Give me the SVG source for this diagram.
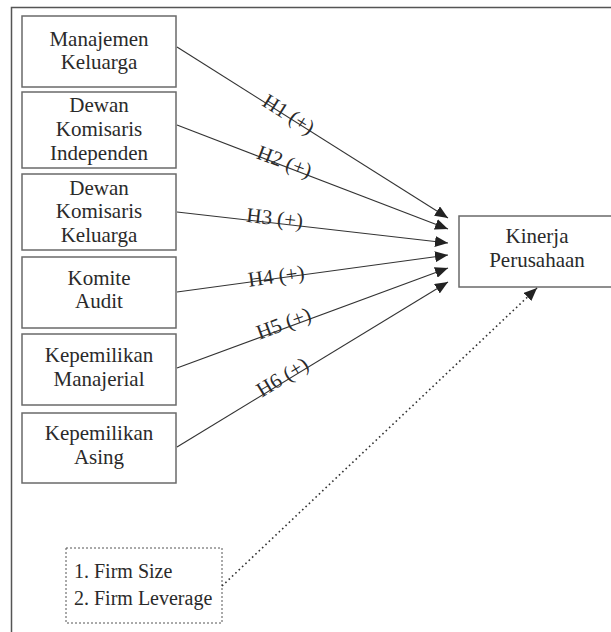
<svg xmlns="http://www.w3.org/2000/svg" width="611" height="632" viewBox="0 0 611 632">
<style>
.box{fill:#fff;stroke:#6a6a6a;stroke-width:1.5}
.t{font-family:"Liberation Serif","Times New Roman",serif;font-size:21px;fill:#2a2a2a;text-anchor:middle}
.tl{font-family:"Liberation Serif","Times New Roman",serif;font-size:20px;fill:#2a2a2a}
.c{stroke:#333;stroke-width:1.1;fill:none}
.d{stroke:#333;stroke-width:1.6;fill:none;stroke-dasharray:1.6 3}
</style>
<defs>
<marker id="ah" viewBox="0 0 13 11" refX="13" refY="5.5" markerWidth="13" markerHeight="11" markerUnits="userSpaceOnUse" orient="auto">
<path d="M0,0 L13,5.5 L0,11 Z" fill="#222"/>
</marker>
</defs>
<rect width="611" height="632" fill="#fff"/>
<path d="M11.5,632 V7.5 H611" fill="none" stroke="#555" stroke-width="1.5"/>

<g id="n1"><rect class="box" x="22" y="16" width="154" height="71"/>
<text class="t" x="99" y="46">Manajemen</text><text class="t" x="99" y="69">Keluarga</text></g>
<g id="n2"><rect class="box" x="22" y="92" width="154" height="76"/>
<text class="t" x="99" y="112">Dewan</text><text class="t" x="99" y="136">Komisaris</text><text class="t" x="99" y="160">Independen</text></g>
<g id="n3"><rect class="box" x="22" y="174" width="154" height="76"/>
<text class="t" x="99" y="195">Dewan</text><text class="t" x="99" y="218">Komisaris</text><text class="t" x="99" y="242">Keluarga</text></g>
<g id="n4"><rect class="box" x="22" y="257" width="154" height="71"/>
<text class="t" x="99" y="285">Komite</text><text class="t" x="99" y="308">Audit</text></g>
<g id="n5"><rect class="box" x="22" y="334" width="154" height="71"/>
<text class="t" x="99" y="362">Kepemilikan</text><text class="t" x="99" y="386">Manajerial</text></g>
<g id="n6"><rect class="box" x="22" y="413" width="154" height="70"/>
<text class="t" x="99" y="440">Kepemilikan</text><text class="t" x="99" y="464">Asing</text></g>
<g id="target"><rect class="box" x="459" y="216" width="160" height="71"/>
<text class="t" x="537" y="243">Kinerja</text><text class="t" x="537" y="267">Perusahaan</text></g>
<g id="control"><rect x="66" y="548" width="156" height="75" fill="#fff" stroke="#555" stroke-width="1" stroke-dasharray="2 2"/>
<text class="tl" x="74" y="578">1. Firm Size</text><text class="tl" x="74" y="605">2. Firm Leverage</text></g>

<g id="connectors">
<line class="c" x1="177" y1="47" x2="448" y2="218" marker-end="url(#ah)"/>
<line class="c" x1="177" y1="125" x2="448" y2="229" marker-end="url(#ah)"/>
<line class="c" x1="177" y1="212" x2="448" y2="243" marker-end="url(#ah)"/>
<line class="c" x1="177" y1="292" x2="448" y2="255" marker-end="url(#ah)"/>
<line class="c" x1="177" y1="368" x2="448" y2="268" marker-end="url(#ah)"/>
<line class="c" x1="177" y1="447" x2="448" y2="282" marker-end="url(#ah)"/>
<line class="d" x1="222" y1="586" x2="537" y2="288" marker-end="url(#ah)"/>
<text class="t" transform="translate(285,120) rotate(32.2)">H1 (+)</text>
<text class="t" transform="translate(282,168) rotate(20.8)">H2 (+)</text>
<text class="t" transform="translate(274,225) rotate(6.5)">H3 (+)</text>
<text class="t" transform="translate(277,283) rotate(-7.8)">H4 (+)</text>
<text class="t" transform="translate(286,330) rotate(-20.3)">H5 (+)</text>
<text class="t" transform="translate(286,383) rotate(-31.3)">H6 (+)</text>
</g>
</svg>
